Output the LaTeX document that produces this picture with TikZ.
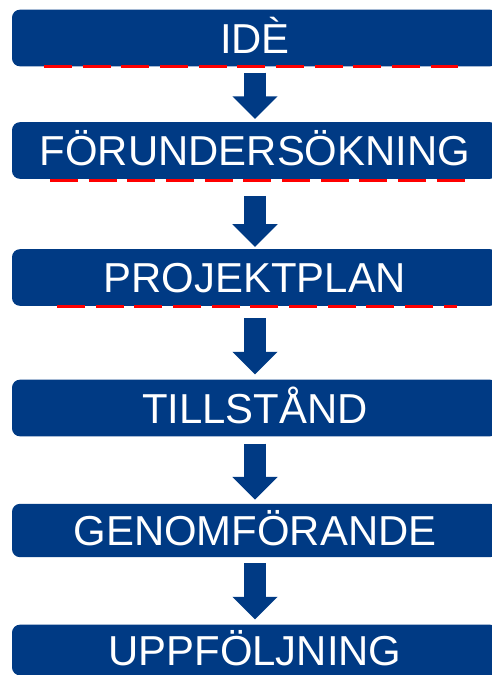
\documentclass[tikz,border=0pt]{standalone}
\usepackage{fontspec}
\setmainfont{Liberation Sans}
\usetikzlibrary{arrows.meta}
\definecolor{stageblue}{RGB}{0,58,132}
\tikzset{
	stage/.style={fill=stageblue, rounded corners=6pt, minimum width=364.5pt, minimum height=42.5pt,
		text=white, font=\fontsize{31.4pt}{36pt}\selectfont, text height=22.5pt, text depth=0pt, inner sep=0pt},
	flow/.style={draw=stageblue, line width=16.5pt, -{Triangle[width=33pt,length=17pt]}},
	spell/.style={draw=red, line width=2.2pt, dash pattern=on 21pt off 8pt}
}
\begin{document}
\begin{tikzpicture}[x=0.75pt,y=-0.75pt]
					\clip (0,0) rectangle (492,675);
					\useasboundingbox (0,0) rectangle (492,675);
					\node[stage] (ide) at (255,38) {IDÈ};
					\node[stage] (forund) at (255,150.5) {FÖRUNDERSÖKNING};
					\node[stage] (plan) at (255,277.5) {PROJEKTPLAN};
					\node[stage] (tillstand) at (255,408) {TILLSTÅND};
					\node[stage, minimum height=40pt] (genomf) at (255,530.5) {GENOMFÖRANDE};
					\node[stage, minimum height=38pt] (uppf) at (255,650) {UPPFÖLJNING};
					\foreach \a/\b/\s/\e in {ide/forund/4.5/2.2, forund/plan/12.5/1.5, plan/tillstand/9/3.7, tillstand/genomf/5.2/3, genomf/uppf/4.5/3.7}
						\draw[flow, shorten <=\s pt, shorten >=\e pt] (\a) -- (\b);
					\draw[spell] (44,66.5) -- (458,66.5);
					\draw[spell] (50,180.5) -- (465,180.5);
					\draw[spell] (57,306.5) -- (457,306.5);
\end{tikzpicture}
\end{document}
